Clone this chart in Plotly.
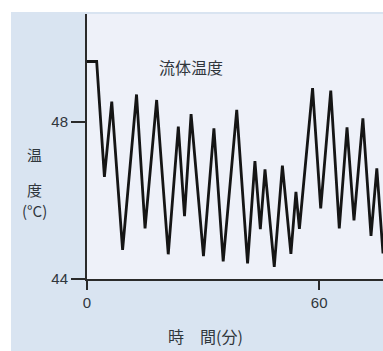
import plotly.graph_objects as go

# time (minutes) and fluid temperature (°C)
time_min = [0, 2.5, 4.5, 6.4, 9.2, 12.8, 15.0, 18.0, 21.0, 23.6, 25.2, 26.9, 30.1, 32.8,
            35.2, 38.7, 41.5, 43.4, 44.8, 46.0, 48.4, 50.5, 52.7, 54.0, 54.9, 58.3,
            60.4, 63.0, 65.2, 67.2, 69.0, 71.3, 73.4, 74.9, 76.5]
temp_c = [49.54, 49.54, 46.6, 48.52, 44.74, 48.7, 45.29, 48.56, 44.63, 47.88, 45.6, 48.2,
          44.58, 47.84, 44.45, 48.31, 44.4, 47.0, 45.27, 46.79, 44.31, 46.89, 44.64, 46.22,
          45.28, 48.86, 45.8, 48.8, 45.29, 47.86, 45.49, 48.09, 45.1, 46.82, 44.65]

x_ticks = [0, 60]
y_ticks = [44, 48]
series_label = "流体温度"
x_title = "時　間(分)"
y_title_lines = ["温", "度", "(°C)"]

W, H = 383, 351
L, R, T, B = 87, 0, 14, 72
pw, ph = W - L - R, H - T - B

def px_x(p):
    return (p - L) / pw

def px_y(p):
    return (H - B - p) / ph

fig = go.Figure()
fig.add_trace(go.Scatter(x=time_min, y=temp_c, mode="lines",
                         line=dict(color="#151515", width=2.8), showlegend=False,
                         cliponaxis=True))

jp = "Noto Sans CJK JP"
txt = "#30363c"

fig.update_layout(
    width=W, height=H,
    margin=dict(l=L, r=R, t=T, b=B),
    paper_bgcolor="#d9e4f1",
    plot_bgcolor="#eef1f9",
    font=dict(family=jp, color=txt, size=14),
    xaxis=dict(range=[0, 76.5], tickvals=x_ticks, ticktext=[str(v) for v in x_ticks],
               showgrid=False, zeroline=False, showline=True, linecolor="#2a2a2a",
               linewidth=2, ticks="outside", ticklen=9, tickwidth=2, tickcolor="#2a2a2a",
               tickfont=dict(family="Liberation Sans", size=15, color=txt)),
    yaxis=dict(range=[44, 50.75], tickvals=y_ticks, ticktext=[str(v) for v in y_ticks],
               showgrid=False, zeroline=False, showline=True, linecolor="#2a2a2a",
               linewidth=2, ticks="outside", ticklen=14, tickwidth=1.5, tickcolor="#2a2a2a",
               tickfont=dict(family="Liberation Sans", size=15, color=txt)),
    shapes=[
        dict(type="rect", xref="paper", yref="paper", x0=px_x(-5), x1=px_x(W + 5),
             y0=px_y(12), y1=px_y(-5), fillcolor="white", line=dict(width=0), layer="below"),
        dict(type="rect", xref="paper", yref="paper", x0=px_x(-5), x1=px_x(11),
             y0=px_y(H + 5), y1=px_y(-5), fillcolor="white", line=dict(width=0), layer="below"),
    ],
)

annos = [dict(text=series_label, x=px_x(191), y=px_y(67), size=16),
         dict(text=x_title, x=px_x(205), y=px_y(336), size=16)]
for t, py in zip(y_title_lines, [154, 189, 210]):
    annos.append(dict(text=t, x=px_x(34), y=px_y(py), size=15))
for a in annos:
    fig.add_annotation(text=a["text"], xref="paper", yref="paper", x=a["x"], y=a["y"],
                       xanchor="center", yanchor="middle", showarrow=False,
                       font=dict(family=jp, size=a["size"], color=txt))

fig.write_html("out.html", config={"displayModeBar": False},
               post_script="document.body.style.margin='0px';document.body.style.overflow='hidden';")
